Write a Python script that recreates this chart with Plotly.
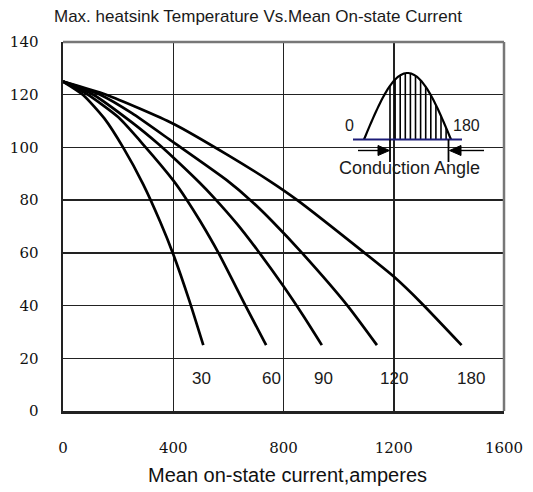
import numpy as np
import plotly.graph_objects as go

# ---- data ----
angles = ["30", "60", "90", "120", "180"]
x30 = [0, 72, 150, 218, 291, 353, 400, 458, 509]
y30 = [125, 120, 111, 100, 86, 71.7, 59.5, 42, 25]
x60 = [0, 90, 200, 292, 400, 450, 498, 564, 662, 737]
y60 = [125, 120, 111.5, 101, 87.5, 80, 72, 60, 40, 25]
x90 = [0, 110, 250, 345, 400, 495, 550, 632, 707, 800, 870, 939]
y90 = [125, 120, 109.5, 101.4, 96.2, 86.7, 80.7, 70.9, 60.8, 47.3, 36.4, 25]
x120 = [0, 135, 250, 400, 595, 680, 759, 867, 1032, 1139]
y120 = [125, 120, 113, 102, 87.5, 80, 72, 60, 40, 25]
x180 = [0, 157, 400, 600, 746, 850, 1094, 1200, 1300, 1446]
y180 = [125, 120, 109, 97, 87.5, 80, 60, 51, 41, 25]
label_x = [502, 757, 946, 1200, 1480]
label_y = [12.5, 12.5, 12.5, 12.5, 12.5]
x_ticks = [0, 400, 800, 1200, 1600]
y_ticks = [0, 20, 40, 60, 80, 100, 120, 140]

W, H = 533, 492
# plot area edges in window pixels
L, R, T, B = 63, 504, 42, 411

fig = go.Figure()
for xs, ys in [(x30, y30), (x60, y60), (x90, y90), (x120, y120), (x180, y180)]:
    fig.add_trace(go.Scatter(x=xs, y=ys, mode="lines",
                             line=dict(color="black", width=2.7, shape="spline", smoothing=0.6),
                             showlegend=False, hoverinfo="skip"))

for lx, ly, t in zip(label_x, label_y, angles):
    fig.add_annotation(x=lx, y=ly, text=t, showarrow=False, xanchor="center", yanchor="middle",
                       font=dict(family="Liberation Sans, Arial", size=17, color="#1a1a1a"))

def px(x):
    return (x - L) / (R - L)

def py(y):
    return (B - y) / (B - T)

shapes = []
# top and right border (grey)
shapes.append(dict(type="line", xref="paper", yref="paper", x0=0, x1=1, y0=1, y1=1,
                   line=dict(color="#777", width=2.5), layer="above"))
shapes.append(dict(type="line", xref="paper", yref="paper", x0=1, x1=1, y0=0, y1=1,
                   line=dict(color="#777", width=2.5), layer="above"))
# inset white box
shapes.append(dict(type="rect", xref="paper", yref="paper", x0=px(335), x1=px(489),
                   y0=py(191), y1=py(64), fillcolor="white", line=dict(width=0), layer="between"))

# inset half-sine hump
x0p, x1p, yb, ypk = 364, 451, 139.5, 73
tt = np.linspace(0, np.pi, 60)
hx = x0p + (x1p - x0p) * tt / np.pi
hy = yb - (yb - ypk) * np.sin(tt)
path = "M " + " L ".join(f"{px(a):.5f},{py(b):.5f}" for a, b in zip(hx, hy))
shapes.append(dict(type="path", xref="paper", yref="paper", path=path,
                   line=dict(color="black", width=2.2), layer="above"))
# hatch lines
for hxv in np.arange(390, 448, 5.1):
    t = (hxv - x0p) / (x1p - x0p) * np.pi
    top = yb - (yb - ypk) * np.sin(t)
    shapes.append(dict(type="line", xref="paper", yref="paper", x0=px(hxv), x1=px(hxv),
                       y0=py(yb), y1=py(top), line=dict(color="black", width=1.6), layer="above"))
# baseline
shapes.append(dict(type="line", xref="paper", yref="paper", x0=px(353), x1=px(462),
                   y0=py(139.5), y1=py(139.5), line=dict(color="#1c1c78", width=2.2), layer="above"))
# markers at conduction start / end
for xv in (390, 448.5):
    shapes.append(dict(type="line", xref="paper", yref="paper", x0=px(xv), x1=px(xv),
                       y0=py(139.5), y1=py(162), line=dict(color="black", width=1.8), layer="above"))
# arrows
shapes.append(dict(type="line", xref="paper", yref="paper", x0=px(358), x1=px(382),
                   y0=py(150.5), y1=py(150.5), line=dict(color="black", width=1.4), layer="above"))
shapes.append(dict(type="path", xref="paper", yref="paper",
                   path=f"M {px(378)},{py(145.5)} L {px(389.5)},{py(150.5)} L {px(378)},{py(155.5)} Z",
                   fillcolor="black", line=dict(color="black", width=1), layer="above"))
shapes.append(dict(type="line", xref="paper", yref="paper", x0=px(457), x1=px(484),
                   y0=py(150.5), y1=py(150.5), line=dict(color="black", width=1.4), layer="above"))
shapes.append(dict(type="path", xref="paper", yref="paper",
                   path=f"M {px(461)},{py(145.5)} L {px(449.5)},{py(150.5)} L {px(461)},{py(155.5)} Z",
                   fillcolor="black", line=dict(color="black", width=1), layer="above"))

inset_font = dict(family="Liberation Sans, Arial", size=16, color="#1a1a1a")
fig.add_annotation(xref="paper", yref="paper", x=px(349), y=py(125), text="0",
                   showarrow=False, xanchor="center", yanchor="middle", font=inset_font)
fig.add_annotation(xref="paper", yref="paper", x=px(466), y=py(125), text="180",
                   showarrow=False, xanchor="center", yanchor="middle", font=inset_font)
fig.add_annotation(xref="paper", yref="paper", x=px(409), y=py(168), text="Conduction Angle",
                   showarrow=False, xanchor="center", yanchor="middle",
                   font=dict(family="Liberation Sans, Arial", size=18, color="#1a1a1a"))

# title
fig.add_annotation(xref="paper", yref="paper", x=px(258), y=py(17),
                   text="Max. heatsink Temperature Vs.Mean On-state Current",
                   showarrow=False, xanchor="center", yanchor="middle",
                   font=dict(family="Liberation Sans, Arial", size=17, color="#1a1a1a"))
# x-axis title
fig.add_annotation(xref="paper", yref="paper", x=px(287), y=py(475),
                   text="Mean on-state current,amperes",
                   showarrow=False, xanchor="center", yanchor="middle",
                   font=dict(family="Liberation Sans, Arial", size=20, color="#111"))

fig.update_layout(
    width=W, height=H,
    margin=dict(l=L, r=W - R, t=T, b=H - B, pad=0, autoexpand=False),
    paper_bgcolor="white", plot_bgcolor="white",
    hovermode=False,
    shapes=shapes,
    xaxis=dict(range=[0, 1600], tickvals=x_ticks, ticktext=[str(v) for v in x_ticks],
               showgrid=True, gridcolor="#222", gridwidth=1.5, automargin=False,
               showline=True, linecolor="#222", linewidth=2.5, zeroline=False,
               ticks="", ticklabelstandoff=21,
               tickfont=dict(family="DejaVu Serif", size=15, color="#111")),
    yaxis=dict(range=[0, 140], tickvals=y_ticks, ticktext=[str(v) for v in y_ticks],
               showgrid=True, gridcolor="#222", gridwidth=1.5, automargin=False,
               showline=True, linecolor="#222", linewidth=2.5, zeroline=False,
               ticks="", ticklabelstandoff=19,
               tickfont=dict(family="DejaVu Serif", size=15, color="#111")),
)

fig.write_html("out.html", config={"displayModeBar": False, "staticPlot": True},
               post_script="document.body.style.margin='0';document.body.style.overflow='hidden';")
